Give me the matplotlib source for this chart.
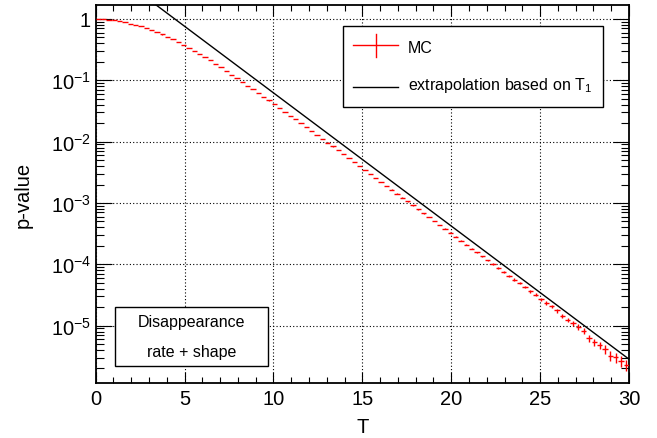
import numpy as np
import matplotlib

matplotlib.use("Agg")
import matplotlib.pyplot as plt
from matplotlib.lines import Line2D
from matplotlib.patches import Rectangle
from matplotlib.ticker import FixedLocator, LogLocator, MultipleLocator, NullFormatter

# histogram binning of the test statistic and size of the toy sample
T_MIN, T_MAX, N_BINS = 0.0, 30.0, 100
N_TOYS = 1.0e7

# log10(p-value) from the toys, one entry per bin of T
mc_log10_p = [
    0.000, -0.004, -0.011, -0.022, -0.036, -0.053, -0.074, -0.097, -0.121, -0.147,
    -0.184, -0.217, -0.253, -0.292, -0.332, -0.375, -0.420, -0.467, -0.516, -0.568,
    -0.621, -0.676, -0.731, -0.789, -0.847, -0.906, -0.965, -1.025, -1.086, -1.146,
    -1.207, -1.268, -1.329, -1.391, -1.452, -1.514, -1.576, -1.638, -1.701, -1.763,
    -1.826, -1.889, -1.952, -2.015, -2.079, -2.142, -2.206, -2.270, -2.334, -2.398,
    -2.462, -2.526, -2.590, -2.655, -2.719, -2.783, -2.847, -2.911, -2.975, -3.039,
    -3.103, -3.167, -3.231, -3.295, -3.359, -3.423, -3.487, -3.551, -3.615, -3.679,
    -3.743, -3.807, -3.871, -3.936, -4.000, -4.064, -4.128, -4.192, -4.248, -4.307,
    -4.367, -4.437, -4.497, -4.568, -4.633, -4.687, -4.753, -4.840, -4.905, -4.959,
    -5.024, -5.090, -5.204, -5.275, -5.318, -5.383, -5.492, -5.519, -5.574, -5.639,
]

# asymptotic extrapolation from T_1 (straight line on the log axis)
extrap_T = [0.0, 30.0]
extrap_p = [9.25, 2.84e-6]

x_ticks = [0, 5, 10, 15, 20, 25, 30]
y_ticks = [1e-5, 1e-4, 1e-3, 1e-2, 1e-1, 1.0]
y_tick_labels = [r"$10^{-5}$", r"$10^{-4}$", r"$10^{-3}$", r"$10^{-2}$", r"$10^{-1}$", "1"]
y_range = (1.16e-6, 1.69)

plt.rcParams.update(
    {
        "font.family": ["Liberation Sans", "DejaVu Sans"],
        "mathtext.fontset": "custom",
        "mathtext.rm": "Liberation Sans",
        "mathtext.it": "Liberation Sans:italic",
        "mathtext.bf": "Liberation Sans:bold",
        "axes.linewidth": 1.3,
    }
)

W, H = 657, 439
fig = plt.figure(figsize=(W / 100, H / 100), dpi=100)
ax = fig.add_axes([95.7 / W, 1 - 384 / H, 533.3 / W, 378 / H])

edges = np.linspace(T_MIN, T_MAX, N_BINS + 1)
centers = 0.5 * (edges[:-1] + edges[1:])
half_width = 0.5 * np.diff(edges)
p_mc = 10.0 ** np.array(mc_log10_p)
err = np.sqrt(p_mc / N_TOYS)
err_low = np.minimum(err, p_mc * 0.999)

ax.errorbar(
    centers, p_mc, xerr=half_width, yerr=[err_low, err],
    fmt="none", ecolor="red", elinewidth=1.0, capsize=0, zorder=3,
)
ax.plot(extrap_T, extrap_p, color="black", linewidth=1.0, zorder=4)

ax.set_yscale("log")
ax.set_xlim(T_MIN, T_MAX)
ax.set_ylim(*y_range)

ax.xaxis.set_major_locator(FixedLocator(x_ticks))
ax.xaxis.set_minor_locator(MultipleLocator(1))
ax.yaxis.set_major_locator(FixedLocator(y_ticks))
ax.set_yticklabels(y_tick_labels)
ax.yaxis.set_minor_locator(LogLocator(base=10, subs=np.arange(2, 10)))
ax.yaxis.set_minor_formatter(NullFormatter())

ax.tick_params(which="both", direction="in", top=True, right=True, width=0.8,
               labelsize=14.5, color="black")
ax.tick_params(axis="x", which="major", length=8, pad=4)
ax.tick_params(axis="x", which="minor", length=4)
ax.tick_params(axis="y", which="major", length=11.5, pad=3.5)
ax.tick_params(axis="y", which="minor", length=5.8)

ax.grid(True, which="major", color="black", linestyle=(0, (1, 2)), linewidth=0.8)
ax.set_axisbelow(True)

ax.set_xlabel("T", fontsize=14.5)
ax.xaxis.set_label_coords(0.5, -0.09)
ax.set_ylabel("p-value", fontsize=14.5)
ax.yaxis.set_label_coords(-0.118, 0.5)

# legend box, drawn by hand in axes coordinates
tr = ax.transAxes
ax.add_patch(Rectangle((0.4643, 0.7294), 0.4875, 0.2158, transform=tr,
                       facecolor="white", edgecolor="black", linewidth=1.0, zorder=5))
ax.add_line(Line2D([0.4825, 0.5669], [0.8929, 0.8929], transform=tr,
                   color="red", linewidth=1.0, zorder=6))
ax.add_line(Line2D([0.5256, 0.5256], [0.8624, 0.9233], transform=tr,
                   color="red", linewidth=1.0, zorder=6))
ax.text(0.5856, 0.8749, "MC", transform=tr, fontsize=11.5, va="baseline", zorder=6)
ax.add_line(Line2D([0.4825, 0.5669], [0.7823, 0.7823], transform=tr,
                   color="black", linewidth=1.0, zorder=6))
ax.text(0.5856, 0.7778, r"extrapolation based on T$_{1}$", transform=tr,
        fontsize=11.5, va="baseline", zorder=6)

# analysis label box
ax.add_patch(Rectangle((0.0362, 0.0458), 0.2874, 0.1561, transform=tr,
                       facecolor="white", edgecolor="black", linewidth=1.0, zorder=5))
ax.text(0.18, 0.150, "Disappearance", transform=tr, fontsize=11.5,
        ha="center", va="baseline", zorder=6)
ax.text(0.18, 0.0706, "rate + shape", transform=tr, fontsize=11.5,
        ha="center", va="baseline", zorder=6)

fig.savefig("out.png", dpi=100, facecolor="white")
